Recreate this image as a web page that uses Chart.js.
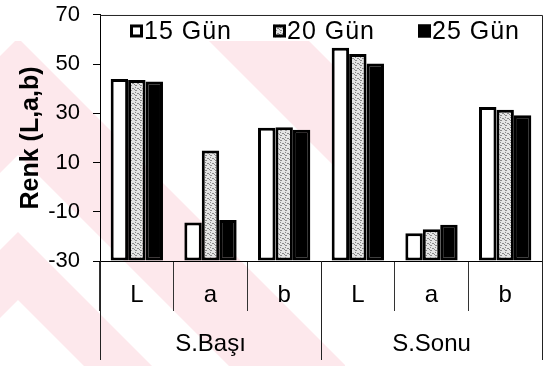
<!DOCTYPE html>
<html>
<head>
<meta charset="utf-8">
<script src="https://cdn.jsdelivr.net/npm/chart.js@4.4.1/dist/chart.umd.min.js"></script>
<style>
  html, body { margin: 0; padding: 0; background: #fff; }
  #wrap { position: relative; width: 551px; height: 366px; }
  #wm, #chart { position: absolute; left: 0; top: 0; }
</style>
</head>
<body>
<div id="wrap">
  <!-- faint chevron watermark behind the chart -->
  <svg id="wm" width="551" height="366">
    <defs><clipPath id="clipWm"><rect x="0" y="41" width="345" height="325"/></clipPath></defs>
    <g fill="#fde8ec" clip-path="url(#clipWm)">
      <polygon points="18,38 366,386 249,386 18,155 -213,386 -330,386"/>
      <polygon points="18,232 172,386 104,386 18,300 -68,386 -136,386"/>
      <polygon points="18,-250 654,386 554,386 18,-150 -518,386 -618,386"/>
    </g>
  </svg>
  <canvas id="chart" width="551" height="366"></canvas>
</div>
<script>
// Renk (L,a,b) values by storage day, start and end of storage
const categories = ['L', 'a', 'b', 'L', 'a', 'b'];
const groups = ['S.Başı', 'S.Sonu'];
const seriesNames = ['15 Gün', '20 Gün', '25 Gün'];
const gun15 = [44.0, -14.4, 24.2, 56.7, -18.7, 32.6];
const gun20 = [43.6, 14.9, 24.4, 54.1, -17.1, 31.5];
const gun25 = [43.0, -13.3, 23.3, 50.3, -15.3, 29.2];
const yMin = -30, yMax = 70, yStep = 20;

const FONT = '"Liberation Sans", Arial, sans-serif';
Chart.defaults.color = '#000';
Chart.defaults.font.family = FONT;

// dotted light grey fill for the 20 Gün bars
function dotPattern() {
    const c = document.createElement('canvas');
    c.width = 5; c.height = 5;
    const g = c.getContext('2d');
    g.fillStyle = '#e4e4e4';
    g.fillRect(0, 0, 5, 5);
    g.fillStyle = '#8a8a8a';
    g.fillRect(0, 0, 2, 1);
    g.fillRect(0, 2, 1, 1);
    g.fillRect(2, 3, 2, 1);
    g.fillRect(4, 4, 1, 1);
    return g.createPattern(c, 'repeat');
}

// legend drawn inside the plot, along the top edge
const legendInside = {
    id: 'legendInside',
    afterDatasetsDraw(chart) {
        const { ctx, chartArea } = chart;
        const offsets = [30, 173, 318];
        const y = chartArea.top + 16;
        ctx.save();
        ctx.font = '25px ' + FONT;
        ctx.letterSpacing = '1px';
        ctx.textBaseline = 'middle';
        chart.data.datasets.forEach((ds, i) => {
            const x = chartArea.left + offsets[i];
            ctx.fillStyle = ds.backgroundColor;
            ctx.fillRect(x, y - 6.5, 13, 13);
            ctx.lineWidth = 3;
            ctx.strokeStyle = '#000';
            ctx.strokeRect(x + 1.5, y - 5, 10, 10);
            ctx.fillStyle = '#000';
            ctx.fillText(ds.label, x + 14, y + 1);
        });
        ctx.restore();
    }
};

// plot frame, group separators and group names
const frameAndGroups = {
    id: 'frameAndGroups',
    afterDraw(chart) {
        const { ctx, chartArea } = chart;
        const xs = chart.scales.x;
        const per = categories.length / groups.length;
        ctx.save();
        ctx.strokeStyle = '#222';
        ctx.lineWidth = 1;
        ctx.beginPath();
        ctx.moveTo(chartArea.left, chartArea.top + 0.5);
        ctx.lineTo(chartArea.right + 0.5, chartArea.top + 0.5);
        ctx.lineTo(chartArea.right + 0.5, chartArea.bottom);
        ctx.stroke();

        ctx.beginPath();
        for (let g = 0; g <= groups.length; g++) {
            const bx = Math.round(xs.getPixelForValue(g * per - 0.5)) + 0.5;
            ctx.moveTo(bx, chartArea.bottom);
            ctx.lineTo(bx, chartArea.bottom + 99);
        }
        ctx.stroke();

        ctx.font = '24px ' + FONT;
        ctx.fillStyle = '#000';
        ctx.textAlign = 'center';
        ctx.textBaseline = 'middle';
        groups.forEach((name, g) => {
            const cx = xs.getPixelForValue(g * per + (per - 1) / 2);
            ctx.fillText(name, cx, chartArea.bottom + 83);
        });
        ctx.restore();
    }
};

const pattern = dotPattern();
const fills = ['#ffffff', pattern, '#000000'];
const values = [gun15, gun20, gun25];

new Chart(document.getElementById('chart'), {
    type: 'bar',
    data: {
        labels: categories,
        datasets: seriesNames.map((name, i) => ({
            label: name,
            data: values[i],
            base: yMin,
            backgroundColor: fills[i],
            borderColor: '#000',
            borderWidth: 3,
            borderSkipped: false,
            barPercentage: 1,
            categoryPercentage: 0.71
        }))
    },
    plugins: [legendInside, frameAndGroups],
    options: {
        responsive: false,
        animation: false,
        layout: { padding: { top: 0, right: 9, bottom: 0, left: 0 } },
        plugins: {
            legend: { display: false },
            tooltip: { enabled: false }
        },
        scales: {
            x: {
                afterFit: scale => { scale.height = 105; },
                grid: { offset: true, drawOnChartArea: false, drawTicks: true, tickLength: 50, color: '#333' },
                border: { color: '#000' },
                ticks: { padding: -30, autoSkip: false, maxRotation: 0, font: { size: 24 } }
            },
            y: {
                min: yMin,
                max: yMax,
                afterFit: scale => { scale.width = 100; },
                grid: { drawOnChartArea: false, drawTicks: true, tickLength: 7, color: '#000' },
                border: { color: '#000' },
                ticks: { stepSize: yStep, padding: 13, font: { size: 22, lineHeight: 0.18 } },
                title: {
                    display: true,
                    text: 'Renk (L,a,b)',
                    font: { size: 25, weight: 'bold', lineHeight: 1.2 },
                    padding: { top: 16, bottom: 0 }
                }
            }
        }
    }
});
</script>
</body>
</html>
